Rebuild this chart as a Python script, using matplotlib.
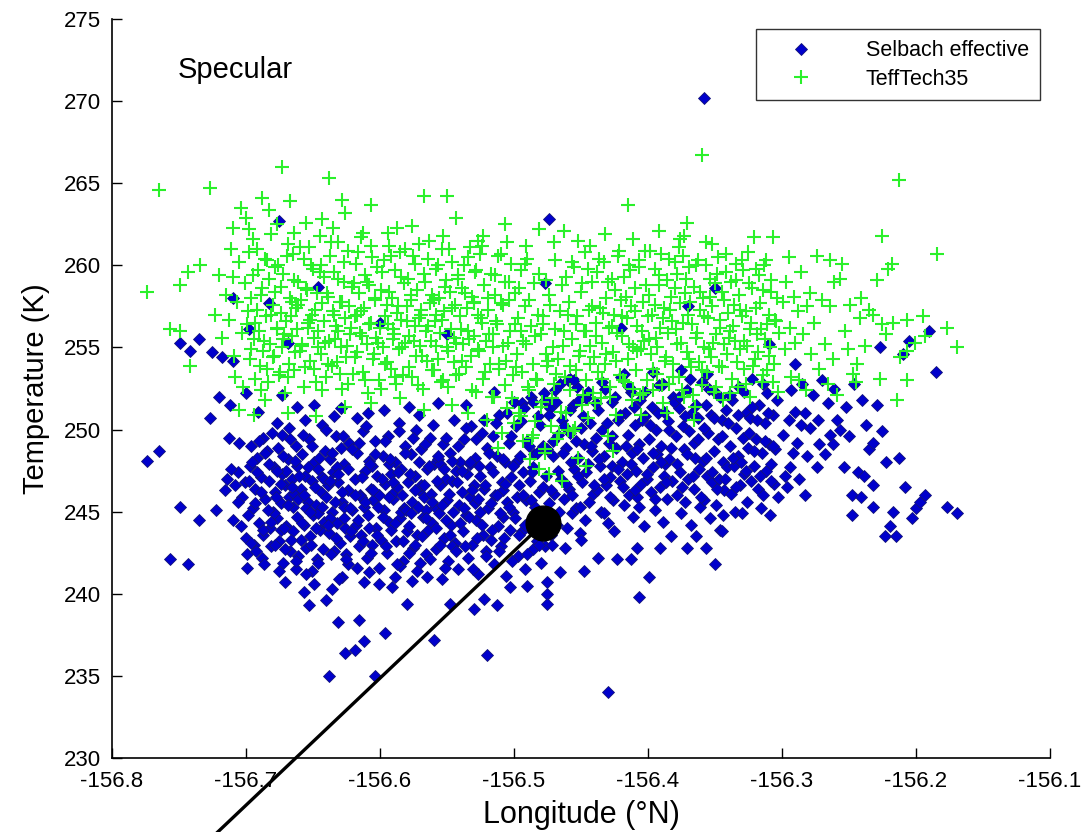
import matplotlib
matplotlib.use("Agg")
import matplotlib.pyplot as plt
import numpy as np

plt.rcParams['font.family'] = ['Liberation Sans', 'DejaVu Sans']

# Selbach effective temperature (lon, K)
selbach_pts = [
    (-156.774,248.1),(-156.765,248.7),(-156.757,242.1),(-156.749,245.3),(-156.743,241.8),(-156.735,244.5),
    (-156.749,255.3),(-156.735,255.5),(-156.742,254.8),(-156.725,254.7),(-156.718,254.4),(-156.710,254.2),
    (-156.727,250.7),(-156.722,245.1),(-156.710,244.5),(-156.704,244.1),(-156.699,242.4),(-156.699,241.6),
    (-156.720,252.0),(-156.700,252.2),(-156.712,251.5),(-156.691,251.1),(-156.713,249.5),(-156.705,249.2),
    (-156.687,249.5),(-156.673,249.7),(-156.710,258.0),(-156.675,262.7),(-156.683,257.7),(-156.698,256.1),
    (-156.669,255.3),(-156.646,258.7),(-156.673,252.1),(-156.662,251.4),(-156.649,251.5),
    (-156.716,246.3),(-156.714,247.0),(-156.708,246.6),(-156.706,247.4),(-156.703,245.9),(-156.701,246.8),
    (-156.697,247.8),(-156.695,245.2),(-156.693,246.4),(-156.692,248.3),(-156.690,244.3),(-156.689,247.1),
    (-156.687,243.6),(-156.686,245.8),(-156.684,248.7),(-156.683,246.9),(-156.681,242.9),(-156.680,245.0),
    (-156.700,243.4),(-156.694,243.0),(-156.688,242.2),(-156.706,245.6),(-156.711,247.6),(-156.682,244.0),
    (-156.696,249.0),
    (-156.679,247.7),(-156.678,246.2),(-156.677,244.6),(-156.676,248.9),(-156.675,243.2),(-156.674,245.5),
    (-156.673,247.3),(-156.672,241.9),(-156.671,246.6),(-156.671,240.7),(-156.670,244.1),(-156.669,248.2),
    (-156.668,245.9),(-156.667,242.6),(-156.666,247.0),(-156.665,243.8),(-156.664,246.1),(-156.663,249.0),
    (-156.662,244.7),(-156.661,242.3),(-156.677,250.4),(-156.668,250.1),(-156.674,243.9),(-156.665,245.3),
    (-156.662,247.8),(-156.679,244.9),(-156.670,247.5),(-156.663,241.5),
    (-156.659,246.4),(-156.658,248.5),(-156.657,240.1),(-156.657,244.2),(-156.656,247.2),(-156.655,242.8),
    (-156.654,245.6),(-156.653,239.3),(-156.653,249.4),(-156.652,243.5),(-156.651,246.9),(-156.650,244.8),
    (-156.649,240.6),(-156.649,248.0),(-156.648,245.4),(-156.647,242.1),(-156.646,247.6),(-156.645,243.9),
    (-156.644,246.2),(-156.643,250.3),(-156.642,244.4),(-156.641,248.7),(-156.640,239.6),(-156.640,245.9),
    (-156.656,250.6),(-156.651,241.4),(-156.646,244.9),(-156.659,243.3),(-156.643,247.1),(-156.655,245.2),
    (-156.639,246.6),(-156.638,235.0),(-156.638,243.7),(-156.637,248.2),(-156.636,240.3),(-156.636,245.0),
    (-156.635,247.4),(-156.634,242.6),(-156.633,249.6),(-156.632,244.3),(-156.631,238.3),(-156.631,246.8),
    (-156.630,243.1),(-156.629,248.9),(-156.628,241.0),(-156.628,245.6),(-156.627,247.9),(-156.626,236.4),
    (-156.626,244.0),(-156.625,242.4),(-156.624,246.3),(-156.623,249.2),(-156.622,243.5),(-156.621,245.1),
    (-156.634,250.8),(-156.629,251.3),(-156.637,244.6),(-156.624,241.8),(-156.632,247.7),(-156.627,245.3),
    (-156.619,236.6),(-156.619,247.0),(-156.618,244.2),(-156.617,248.6),(-156.616,238.4),(-156.616,242.9),
    (-156.615,246.0),(-156.614,243.6),(-156.613,249.9),(-156.612,237.1),(-156.612,240.7),(-156.612,245.3),
    (-156.611,247.5),(-156.610,242.2),(-156.609,244.8),(-156.608,241.3),(-156.608,248.1),(-156.607,246.4),
    (-156.606,243.0),(-156.605,245.7),(-156.604,235.0),(-156.604,249.3),(-156.603,244.0),(-156.602,247.2),
    (-156.601,241.6),(-156.601,246.0),(-156.617,250.7),(-156.609,251.0),(-156.614,245.9),(-156.606,247.8),
    (-156.599,243.3),(-156.598,248.4),(-156.597,245.1),(-156.596,237.6),(-156.596,246.7),(-156.595,242.5),
    (-156.594,249.6),(-156.593,244.4),(-156.592,247.3),(-156.591,240.4),(-156.590,245.8),(-156.589,241.0),
    (-156.589,248.0),(-156.588,243.2),(-156.587,246.5),(-156.586,250.4),(-156.585,244.6),(-156.584,247.6),
    (-156.583,242.0),(-156.582,245.2),(-156.581,249.0),(-156.580,239.4),(-156.580,243.8),(-156.597,251.2),
    (-156.591,246.1),(-156.585,241.7),(-156.593,247.9),(-156.584,245.0),
    (-156.579,246.8),(-156.578,244.1),(-156.577,248.5),(-156.576,240.8),(-156.576,245.6),(-156.575,242.8),
    (-156.574,247.2),(-156.573,250.0),(-156.572,243.6),(-156.571,246.3),(-156.570,241.9),(-156.569,248.8),
    (-156.568,244.7),(-156.567,245.9),(-156.566,242.4),(-156.565,241.0),(-156.565,247.6),(-156.564,243.9),
    (-156.563,249.5),(-156.562,246.1),(-156.561,244.3),(-156.560,237.2),(-156.560,247.9),(-156.578,251.4),
    (-156.571,250.9),(-156.566,245.1),(-156.574,243.0),(-156.569,246.6),
    (-156.559,245.3),(-156.558,242.7),(-156.557,248.2),(-156.556,244.9),(-156.555,246.6),(-156.554,240.9),
    (-156.553,249.1),(-156.552,243.4),(-156.551,247.0),(-156.550,245.7),(-156.549,242.0),(-156.548,239.4),
    (-156.548,248.6),(-156.547,244.2),(-156.546,246.9),(-156.545,250.6),(-156.544,243.1),(-156.543,247.5),
    (-156.542,241.5),(-156.541,245.4),(-156.540,248.0),(-156.557,251.6),(-156.551,244.5),(-156.546,242.9),
    (-156.555,247.9),
    (-156.539,246.2),(-156.538,243.8),(-156.537,249.4),(-156.536,244.8),(-156.535,247.3),(-156.534,242.2),
    (-156.533,245.9),(-156.532,250.2),(-156.531,243.0),(-156.530,239.1),(-156.530,246.6),(-156.529,248.3),
    (-156.528,244.5),(-156.527,241.2),(-156.526,247.8),(-156.525,245.0),(-156.524,249.8),(-156.523,243.6),
    (-156.522,239.7),(-156.522,246.4),(-156.521,242.6),(-156.520,236.3),(-156.520,248.9),(-156.536,251.5),
    (-156.529,245.5),(-156.533,247.9),
    (-156.519,245.2),(-156.518,247.7),(-156.517,243.3),(-156.516,249.6),(-156.515,241.8),(-156.514,246.0),
    (-156.513,239.3),(-156.513,248.4),(-156.512,244.1),(-156.511,250.9),(-156.510,242.9),(-156.509,246.8),
    (-156.508,244.7),(-156.507,248.0),(-156.506,241.1),(-156.505,245.6),(-156.504,249.2),(-156.503,240.4),
    (-156.503,243.9),(-156.502,247.1),(-156.501,245.0),(-156.500,251.7),(-156.515,252.3),(-156.508,246.3),
    (-156.499,244.6),(-156.498,248.1),(-156.497,242.3),(-156.496,246.6),(-156.495,250.5),(-156.494,243.8),
    (-156.493,247.4),(-156.492,241.5),(-156.491,245.7),(-156.490,240.5),(-156.490,249.3),(-156.489,244.0),
    (-156.488,246.9),(-156.487,252.0),(-156.486,242.7),(-156.485,248.5),(-156.484,245.3),(-156.483,243.2),
    (-156.482,250.8),(-156.481,246.2),(-156.480,241.9),(-156.494,251.6),(-156.486,247.7),
    (-156.479,244.8),(-156.478,249.0),(-156.477,242.9),(-156.476,247.2),(-156.475,240.7),(-156.475,240.0),
    (-156.475,239.4),(-156.474,262.8),(-156.474,245.5),(-156.473,251.3),(-156.472,243.6),(-156.471,248.4),
    (-156.470,246.1),(-156.469,252.4),(-156.468,244.2),(-156.467,249.7),(-156.466,241.3),(-156.465,247.0),
    (-156.464,250.6),(-156.463,245.8),(-156.462,242.8),(-156.461,248.9),(-156.460,253.0),(-156.477,251.8),
    (-156.459,246.4),(-156.458,249.8),(-156.457,244.9),(-156.456,251.5),(-156.455,247.6),(-156.454,245.2),
    (-156.453,252.6),(-156.452,248.3),(-156.451,243.7),(-156.450,250.1),(-156.449,246.8),(-156.448,241.4),
    (-156.448,249.1),(-156.447,244.5),(-156.446,251.9),(-156.445,247.9),(-156.444,245.6),(-156.443,250.4),
    (-156.442,248.7),(-156.441,246.1),(-156.458,253.1),(-156.450,243.3),
    (-156.439,249.5),(-156.438,246.3),(-156.437,242.2),(-156.437,251.2),(-156.436,247.8),(-156.435,245.0),
    (-156.434,250.0),(-156.433,248.4),(-156.432,252.5),(-156.431,246.6),(-156.430,244.3),(-156.430,234.0),
    (-156.429,249.2),(-156.428,247.1),(-156.427,251.7),(-156.426,245.7),(-156.425,243.8),(-156.424,248.9),
    (-156.423,242.1),(-156.422,250.6),(-156.421,246.9),(-156.420,253.2),(-156.433,244.9),(-156.427,247.8),
    (-156.419,248.0),(-156.418,245.4),(-156.417,251.0),(-156.416,247.3),(-156.415,249.7),(-156.414,246.0),
    (-156.413,242.1),(-156.413,252.3),(-156.412,248.6),(-156.411,244.7),(-156.410,250.3),(-156.409,247.5),
    (-156.408,242.8),(-156.408,245.9),(-156.407,239.8),(-156.407,249.1),(-156.406,251.8),(-156.405,246.7),
    (-156.404,248.3),(-156.403,244.1),(-156.402,250.8),(-156.401,247.0),(-156.418,253.4),(-156.410,246.3),
    (-156.399,241.0),(-156.399,249.4),(-156.398,246.2),(-156.397,251.4),(-156.396,247.7),(-156.395,245.1),
    (-156.394,250.0),(-156.393,248.5),(-156.392,252.7),(-156.391,242.8),(-156.391,246.5),(-156.390,249.0),
    (-156.389,244.4),(-156.388,251.1),(-156.387,247.9),(-156.386,245.8),(-156.385,250.5),(-156.384,248.2),
    (-156.383,243.5),(-156.382,246.9),(-156.381,252.0),(-156.396,253.5),(-156.388,247.2),
    (-156.379,249.6),(-156.378,246.0),(-156.377,251.3),(-156.376,247.4),(-156.375,244.9),(-156.374,250.2),
    (-156.373,248.8),(-156.372,245.6),(-156.371,242.8),(-156.371,252.4),(-156.370,247.0),(-156.369,249.9),
    (-156.368,244.2),(-156.367,251.0),(-156.366,246.4),(-156.365,248.3),(-156.364,243.5),(-156.363,250.7),
    (-156.362,247.6),(-156.361,245.3),(-156.360,252.9),(-156.358,270.2),(-156.375,253.6),(-156.366,249.2),
    (-156.359,248.1),(-156.358,245.7),(-156.357,242.8),(-156.357,251.5),(-156.356,247.2),(-156.355,249.8),
    (-156.354,244.6),(-156.353,250.9),(-156.352,246.8),(-156.351,248.7),(-156.350,241.8),(-156.350,252.3),
    (-156.349,245.4),(-156.348,249.4),(-156.347,247.0),(-156.346,243.9),(-156.345,243.8),(-156.345,250.6),
    (-156.344,244.8),(-156.344,248.0),(-156.343,246.3),(-156.342,251.2),(-156.341,247.7),(-156.356,253.4),
    (-156.339,249.0),(-156.338,246.1),(-156.337,251.8),(-156.336,247.8),(-156.335,245.0),(-156.334,250.1),
    (-156.333,248.4),(-156.332,252.6),(-156.331,246.6),(-156.330,244.9),(-156.329,249.5),(-156.328,247.3),
    (-156.327,251.0),(-156.326,245.6),(-156.325,248.9),(-156.324,250.7),(-156.323,246.9),(-156.322,253.1),
    (-156.321,247.8),
    (-156.319,249.4),(-156.318,246.4),(-156.317,251.5),(-156.316,245.2),(-156.315,248.6),(-156.314,246.0),
    (-156.313,250.4),(-156.312,247.5),(-156.311,252.2),(-156.310,249.1),(-156.309,244.8),(-156.308,247.9),
    (-156.307,250.9),(-156.306,246.7),(-156.305,248.8),(-156.304,251.8),(-156.303,245.9),
    (-156.299,249.7),(-156.298,247.2),(-156.296,246.5),(-156.295,250.6),(-156.294,247.7),(-156.293,252.4),
    (-156.292,248.6),(-156.290,251.1),(-156.289,249.2),(-156.287,247.0),(-156.286,250.3),(-156.285,252.8),
    (-156.283,246.0),(-156.283,251.0),(-156.281,248.4),
    (-156.279,250.1),(-156.277,252.1),(-156.274,247.7),(-156.273,250.6),(-156.272,249.1),(-156.270,253.0),
    (-156.268,248.5),(-156.266,251.6),(-156.264,249.7),(-156.262,249.1),(-156.261,252.5),
    (-156.259,250.6),(-156.257,250.0),(-156.254,247.7),(-156.252,251.4),(-156.250,249.6),(-156.248,246.0),
    (-156.248,244.8),(-156.246,252.8),(-156.243,247.4),(-156.241,245.9),(-156.240,251.8),
    (-156.239,247.2),(-156.237,250.3),(-156.235,248.8),(-156.232,249.2),(-156.232,246.6),(-156.232,245.3),
    (-156.229,251.5),(-156.227,255.0),(-156.225,249.9),(-156.223,243.5),(-156.222,248.0),
    (-156.219,244.1),(-156.217,245.0),(-156.215,243.5),(-156.213,248.3),(-156.210,254.6),(-156.208,246.5),
    (-156.205,255.4),(-156.203,244.6),(-156.200,245.2),
    (-156.197,245.6),(-156.193,246.0),(-156.190,256.0),(-156.185,253.5),(-156.177,245.3),(-156.169,244.9),
    (-156.477,258.9),(-156.600,256.5),(-156.550,255.8),(-156.420,256.2),(-156.370,257.5),(-156.310,255.2),
    (-156.290,254.0),(-156.350,258.6),
]

# denser core of the Selbach cloud
selbach_core_pts = [
    (-156.6985,244.8),(-156.6975,246.9),(-156.6965,243.1),(-156.6955,248.0),(-156.6935,245.5),(-156.6925,242.6),
    (-156.6915,247.4),(-156.6905,249.3),(-156.6885,246.2),(-156.6875,243.9),(-156.6865,241.8),(-156.6855,248.6),
    (-156.6835,245.1),(-156.6825,247.9),(-156.6815,244.4),(-156.6805,249.8),(-156.6785,243.0),(-156.6775,245.9),
    (-156.6765,247.5),(-156.6755,241.4),(-156.6735,246.7),(-156.6725,248.4),(-156.6715,244.0),(-156.6705,242.7),
    (-156.6685,245.4),(-156.6675,249.4),(-156.6665,243.3),(-156.6655,246.5),(-156.6635,248.1),(-156.6625,242.0),
    (-156.6615,245.8),(-156.6605,247.2),(-156.6585,244.3),(-156.6575,249.7),(-156.6565,246.0),(-156.6555,241.2),
    (-156.6535,247.7),(-156.6525,245.0),(-156.6515,243.0),(-156.6505,249.0),(-156.6485,246.5),(-156.6475,244.0),
    (-156.6465,241.9),(-156.6455,248.3),(-156.6435,245.3),(-156.6425,242.7),(-156.6415,247.0),(-156.6405,250.0),
    (-156.6385,244.2),(-156.6375,246.9),(-156.6365,242.4),(-156.6355,248.6),(-156.6335,245.6),(-156.6325,243.4),
    (-156.6315,247.3),(-156.6305,240.9),(-156.6285,246.2),(-156.6275,249.6),(-156.6265,244.6),(-156.6255,242.1),
    (-156.6235,247.6),(-156.6225,245.2),(-156.6215,243.8),(-156.6205,248.8),(-156.6185,246.0),(-156.6175,241.6),
    (-156.6165,244.5),(-156.6155,249.2),(-156.6135,247.1),(-156.6125,243.2),(-156.6115,245.6),(-156.6105,250.2),
    (-156.6085,244.0),(-156.6075,247.9),(-156.6065,242.5),(-156.6055,246.3),(-156.6035,248.5),(-156.6025,243.6),
    (-156.6015,245.3),(-156.6005,240.6),(-156.5985,247.0),(-156.5975,244.7),(-156.5965,249.3),(-156.5955,242.9),
    (-156.5935,245.9),(-156.5925,248.2),(-156.5915,243.9),(-156.5905,246.8),(-156.5885,244.3),(-156.5875,241.8),
    (-156.5865,247.4),(-156.5855,249.9),(-156.5835,246.0),(-156.5825,243.2),(-156.5815,248.6),(-156.5805,245.1),
    (-156.5785,242.5),(-156.5775,247.3),(-156.5765,244.9),(-156.5755,249.5),(-156.5735,246.3),(-156.5725,241.4),
    (-156.5715,245.3),(-156.5705,248.0),(-156.5685,243.5),(-156.5675,246.6),(-156.5665,249.1),(-156.5655,244.6),
    (-156.5635,247.8),(-156.5625,242.1),(-156.5615,245.6),(-156.5605,250.3),(-156.5585,244.0),(-156.5575,246.9),
    (-156.5565,248.4),(-156.5555,243.0),(-156.5535,245.4),(-156.5525,247.6),(-156.5515,241.6),(-156.5505,249.5),
    (-156.5485,246.1),(-156.5475,243.6),(-156.5465,248.1),(-156.5455,245.0),(-156.5435,242.6),(-156.5425,246.8),
    (-156.5415,249.0),(-156.5405,244.3),(-156.5385,247.5),(-156.5375,245.2),(-156.5365,242.9),(-156.5355,250.1),
    (-156.5335,244.7),(-156.5325,248.0),(-156.5315,246.3),(-156.5305,241.5),(-156.5285,249.4),(-156.5275,243.4),
    (-156.5265,245.8),(-156.5255,247.2),(-156.5235,244.2),(-156.5225,250.6),(-156.5215,246.6),(-156.5205,242.3),
    (-156.5185,248.6),(-156.5175,245.5),(-156.5165,243.9),(-156.5155,247.4),(-156.5135,250.4),(-156.5125,246.0),
    (-156.5115,242.6),(-156.5105,244.9),(-156.5085,248.2),(-156.5075,243.4),(-156.5065,246.7),(-156.5055,251.0),
    (-156.5035,245.3),(-156.5025,249.6),(-156.5015,242.0),(-156.5005,247.8),(-156.4985,250.2),(-156.4975,245.9),
    (-156.4965,243.6),(-156.4955,248.4),(-156.4935,246.0),(-156.4925,251.3),(-156.4915,244.2),(-156.4905,242.4),
    (-156.4885,249.0),(-156.4875,245.7),(-156.4865,247.4),(-156.4855,251.7),(-156.4835,244.8),(-156.4825,248.6),
    (-156.4815,243.0),(-156.4805,250.3),(-156.4785,246.5),(-156.4775,252.2),(-156.4765,244.1),(-156.4755,248.8),
    (-156.4735,250.9),(-156.4725,246.3),(-156.4715,243.0),(-156.4705,249.3),(-156.4685,251.7),(-156.4675,247.5),
    (-156.4665,245.0),(-156.4655,252.8),(-156.4635,248.6),(-156.4625,250.2),(-156.4615,246.7),(-156.4605,244.0),
    (-156.4585,251.2),(-156.4575,248.0),(-156.4565,246.0),(-156.4555,253.0),(-156.4535,249.3),(-156.4525,247.2),
    (-156.4515,251.8),(-156.4505,245.3),
    (-156.4485,250.8),(-156.4465,247.4),(-156.4445,252.3),(-156.4425,249.0),(-156.4405,246.6),(-156.4385,251.6),
    (-156.4365,248.2),(-156.4345,252.9),(-156.4325,247.0),(-156.4305,250.4),(-156.4285,245.9),(-156.4265,249.6),
    (-156.4245,252.0),(-156.4225,247.6),(-156.4205,250.9),(-156.4185,246.5),(-156.4165,249.0),(-156.4145,252.6),
    (-156.4125,247.9),(-156.4105,251.4),(-156.4085,248.8),(-156.4065,245.3),(-156.4045,250.6),(-156.4025,252.3),
    (-156.4005,247.3),(-156.3985,250.3),(-156.3965,248.6),(-156.3945,245.8),(-156.3925,251.0),(-156.3905,248.0),
    (-156.3885,252.8),(-156.3865,246.8),(-156.3845,250.0),(-156.3825,248.9),(-156.3805,251.7),(-156.3785,247.9),
    (-156.3765,252.0),(-156.3745,246.5),(-156.3725,250.8),(-156.3705,248.5),(-156.3685,253.1),(-156.3665,247.2),
    (-156.3645,251.5),(-156.3625,249.4),(-156.3605,245.9),(-156.3585,250.1),(-156.3565,248.3),(-156.3545,252.5),
    (-156.3525,247.4),(-156.3505,250.7),(-156.3485,246.4),(-156.3465,252.0),(-156.3445,249.6),(-156.3425,247.0),
    (-156.3405,250.4),(-156.3385,252.1),(-156.3365,248.3),(-156.3345,246.5),(-156.3325,250.9),(-156.3305,248.0),
    (-156.3285,252.3),(-156.3265,247.5),(-156.3245,249.8),(-156.3225,251.4),(-156.3205,248.7),(-156.3185,250.6),
    (-156.3165,247.2),(-156.3145,252.8),(-156.3125,249.3),(-156.3105,251.0),(-156.3085,246.9),(-156.3065,249.0),
]

# TeffTech35 temperature (lon, K)
tefftech_pts = [
    (-156.774,258.4),(-156.765,264.6),(-156.749,258.8),(-156.743,259.6),(-156.734,260.0),(-156.757,256.1),
    (-156.749,256.0),(-156.742,253.9),(-156.708,253.2),(-156.720,259.4),(-156.710,259.3),(-156.723,257.0),
    (-156.705,251.2),(-156.727,264.7),(-156.673,266.0),(-156.638,265.3),(-156.567,264.2),(-156.704,263.5),
    (-156.688,264.1),(-156.667,263.9),(-156.628,264.0),(-156.607,263.7),(-156.700,262.9),(-156.710,262.3),
    (-156.683,263.4),(-156.643,262.8),(-156.587,262.3),(-156.626,263.2),(-156.550,264.2),(-156.543,262.9),
    (-156.360,266.7),(-156.415,263.7),(-156.371,262.6),(-156.376,261.6),(-156.507,262.5),(-156.523,261.8),
    (-156.481,262.2),(-156.463,262.1),(-156.443,261.2),(-156.213,265.2),(-156.225,261.8),(-156.184,260.7),
    (-156.718,255.6),(-156.715,258.2),(-156.713,256.7),(-156.711,261.0),(-156.709,254.5),(-156.707,257.8),
    (-156.705,260.2),(-156.703,255.9),(-156.702,252.6),(-156.701,258.9),
    (-156.699,256.4),(-156.698,260.8),(-156.697,254.3),(-156.696,258.0),(-156.695,261.6),(-156.694,255.5),
    (-156.693,253.1),(-156.692,257.3),(-156.691,259.7),(-156.690,256.0),(-156.689,252.4),(-156.688,258.6),
    (-156.687,254.8),(-156.686,260.4),(-156.685,256.9),(-156.684,253.7),(-156.683,259.2),(-156.682,255.2),
    (-156.681,261.9),(-156.680,257.6),(-156.694,250.9),(-156.686,251.8),(-156.698,262.2),
    (-156.679,254.5),(-156.678,258.4),(-156.677,256.2),(-156.676,260.0),(-156.675,253.3),(-156.674,257.1),
    (-156.673,255.0),(-156.672,259.5),(-156.671,252.2),(-156.670,256.6),(-156.669,261.3),(-156.668,254.0),
    (-156.667,258.0),(-156.666,255.7),(-156.665,260.7),(-156.664,253.6),(-156.663,257.4),(-156.662,256.1),
    (-156.661,259.0),(-156.660,254.8),(-156.677,262.5),(-156.669,251.0),(-156.664,262.0),(-156.672,255.5),
    (-156.666,257.8),
    (-156.659,257.9),(-156.658,255.1),(-156.657,260.4),(-156.656,253.8),(-156.655,258.6),(-156.654,256.5),
    (-156.653,261.1),(-156.652,254.2),(-156.651,257.0),(-156.650,259.8),(-156.649,255.6),(-156.648,252.9),
    (-156.647,258.3),(-156.646,256.0),(-156.645,261.8),(-156.644,254.6),(-156.643,257.7),(-156.642,259.3),
    (-156.641,255.3),(-156.640,253.2),(-156.655,262.6),(-156.648,250.8),(-156.644,260.0),(-156.652,256.7),
    (-156.639,258.1),(-156.638,255.4),(-156.637,260.6),(-156.636,253.9),(-156.635,257.2),(-156.634,259.6),
    (-156.633,256.3),(-156.632,254.1),(-156.631,261.4),(-156.630,257.8),(-156.629,255.0),(-156.628,252.5),
    (-156.627,259.0),(-156.626,256.8),(-156.625,254.4),(-156.624,260.9),(-156.623,257.5),(-156.622,255.8),
    (-156.621,258.7),(-156.620,253.4),(-156.635,262.3),(-156.626,251.4),(-156.631,256.0),
    (-156.619,256.9),(-156.618,260.1),(-156.617,254.7),(-156.616,258.3),(-156.615,255.9),(-156.614,261.7),
    (-156.613,253.5),(-156.612,257.4),(-156.611,259.4),(-156.610,255.2),(-156.609,252.2),(-156.608,258.8),
    (-156.607,256.5),(-156.606,260.5),(-156.605,254.3),(-156.604,257.9),(-156.603,255.6),(-156.602,259.9),
    (-156.601,253.0),(-156.600,256.2),(-156.613,262.0),(-156.607,251.6),(-156.617,257.0),
    (-156.599,258.5),(-156.598,255.0),(-156.597,260.3),(-156.596,254.0),(-156.595,257.6),(-156.594,256.4),
    (-156.593,261.2),(-156.592,253.7),(-156.591,258.0),(-156.590,255.5),(-156.589,259.7),(-156.588,252.8),
    (-156.587,257.1),(-156.586,254.9),(-156.585,260.8),(-156.584,256.7),(-156.583,253.3),(-156.582,258.9),
    (-156.581,255.3),(-156.580,257.5),(-156.594,262.0),(-156.585,251.9),(-156.590,256.1),
    (-156.579,259.2),(-156.578,255.7),(-156.577,257.9),(-156.576,253.2),(-156.575,260.6),(-156.574,256.3),
    (-156.573,254.5),(-156.572,258.5),(-156.571,261.3),(-156.570,255.1),(-156.569,257.3),(-156.568,252.5),
    (-156.567,259.5),(-156.566,256.0),(-156.565,254.2),(-156.564,260.4),(-156.563,257.7),(-156.562,255.4),
    (-156.561,258.2),(-156.560,253.6),(-156.576,262.4),(-156.567,251.2),(-156.571,256.8),
    (-156.559,256.6),(-156.558,259.8),(-156.557,254.3),(-156.556,258.0),(-156.555,255.9),(-156.554,261.0),
    (-156.553,253.0),(-156.552,257.2),(-156.551,259.1),(-156.550,255.0),(-156.549,252.6),(-156.548,258.4),
    (-156.547,256.1),(-156.546,260.2),(-156.545,254.1),(-156.544,257.6),(-156.543,255.3),(-156.542,259.4),
    (-156.541,253.4),(-156.540,256.9),(-156.553,261.8),(-156.546,251.5),(-156.558,257.0),
    (-156.539,258.6),(-156.538,255.2),(-156.537,260.0),(-156.536,253.8),(-156.535,257.4),(-156.534,256.0),
    (-156.533,261.1),(-156.532,254.5),(-156.531,258.1),(-156.530,255.7),(-156.529,259.6),(-156.528,252.3),
    (-156.527,257.0),(-156.526,254.8),(-156.525,260.7),(-156.524,256.5),(-156.523,253.1),(-156.522,258.8),
    (-156.521,255.4),(-156.520,250.6),(-156.534,251.0),(-156.527,261.5),(-156.530,257.8),
    (-156.519,257.3),(-156.518,254.0),(-156.517,259.5),(-156.516,255.8),(-156.515,252.0),(-156.514,258.2),
    (-156.513,256.4),(-156.512,260.6),(-156.511,253.7),(-156.510,257.7),(-156.509,249.8),(-156.508,255.1),
    (-156.507,259.0),(-156.506,254.2),(-156.505,251.3),(-156.504,257.9),(-156.503,256.0),(-156.502,260.1),
    (-156.501,253.3),(-156.500,250.4),(-156.512,248.9),(-156.505,261.4),(-156.516,255.0),
    (-156.499,258.3),(-156.498,254.6),(-156.497,256.8),(-156.496,251.0),(-156.495,259.7),(-156.494,253.5),
    (-156.493,249.3),(-156.492,257.5),(-156.491,255.2),(-156.490,260.4),(-156.489,252.4),(-156.488,248.2),
    (-156.487,256.3),(-156.486,254.0),(-156.485,258.9),(-156.484,250.5),(-156.483,253.0),(-156.482,257.0),
    (-156.481,247.6),(-156.480,255.8),(-156.491,261.2),(-156.486,249.7),(-156.495,256.0),
    (-156.479,251.7),(-156.478,256.4),(-156.477,248.8),(-156.476,259.1),(-156.475,253.9),(-156.474,247.3),
    (-156.473,257.6),(-156.472,250.2),(-156.471,255.0),(-156.470,252.8),(-156.469,260.3),(-156.468,249.4),
    (-156.467,254.3),(-156.466,257.2),(-156.465,251.1),(-156.464,246.9),(-156.463,256.0),(-156.462,253.2),
    (-156.461,259.3),(-156.460,250.0),(-156.470,261.4),(-156.476,254.6),
    (-156.459,257.8),(-156.458,252.4),(-156.457,255.5),(-156.456,249.9),(-156.455,259.9),(-156.454,253.6),
    (-156.453,256.9),(-156.452,248.3),(-156.451,254.8),(-156.450,258.4),(-156.449,251.5),(-156.448,256.0),
    (-156.447,260.8),(-156.446,253.0),(-156.445,250.7),(-156.444,257.3),(-156.443,255.1),(-156.442,259.0),
    (-156.441,252.2),(-156.440,254.4),(-156.452,261.5),(-156.446,247.8),
    (-156.439,256.5),(-156.438,259.6),(-156.437,253.5),(-156.436,257.4),(-156.435,251.9),(-156.434,255.3),
    (-156.433,260.2),(-156.432,254.0),(-156.431,258.0),(-156.430,249.6),(-156.429,256.2),(-156.428,252.6),
    (-156.427,259.2),(-156.426,254.7),(-156.425,257.0),(-156.424,250.9),(-156.423,255.9),(-156.422,260.6),
    (-156.421,253.3),(-156.420,257.9),(-156.432,261.9),(-156.426,248.7),
    (-156.419,255.7),(-156.418,259.3),(-156.417,252.9),(-156.416,256.8),(-156.415,254.3),(-156.414,260.0),
    (-156.413,257.5),(-156.412,251.8),(-156.411,255.0),(-156.410,258.6),(-156.409,253.6),(-156.408,256.3),
    (-156.407,259.9),(-156.406,252.1),(-156.405,254.9),(-156.404,257.8),(-156.403,255.4),(-156.402,260.9),
    (-156.401,253.0),(-156.400,256.9),(-156.411,261.6),(-156.405,250.9),
    (-156.399,258.2),(-156.398,254.6),(-156.397,257.0),(-156.396,252.4),(-156.395,259.8),(-156.394,255.6),
    (-156.393,253.4),(-156.392,258.8),(-156.391,256.2),(-156.390,260.7),(-156.389,251.6),(-156.388,257.4),
    (-156.387,254.2),(-156.386,259.1),(-156.385,255.9),(-156.384,252.8),(-156.383,258.1),(-156.382,256.6),
    (-156.381,254.0),(-156.380,260.2),(-156.392,262.1),(-156.386,251.0),
    (-156.379,256.1),(-156.378,259.5),(-156.377,253.2),(-156.376,257.7),(-156.375,255.3),(-156.374,260.6),
    (-156.373,252.0),(-156.372,258.3),(-156.371,254.7),(-156.370,257.0),(-156.369,259.9),(-156.368,253.8),
    (-156.367,256.4),(-156.366,258.7),(-156.365,251.4),(-156.364,255.6),(-156.363,260.3),(-156.362,254.1),
    (-156.361,257.3),(-156.360,252.7),(-156.373,261.8),(-156.366,250.6),
    (-156.359,258.0),(-156.358,255.0),(-156.357,260.0),(-156.356,253.5),(-156.355,256.8),(-156.354,259.2),
    (-156.353,254.4),(-156.352,257.5),(-156.351,252.3),(-156.350,258.9),(-156.349,255.8),(-156.348,260.5),
    (-156.347,253.9),(-156.346,256.2),(-156.345,258.4),(-156.344,251.8),(-156.343,255.2),(-156.342,259.6),
    (-156.341,254.6),(-156.340,257.1),(-156.352,261.3),
    (-156.339,256.0),(-156.338,259.0),(-156.337,253.1),(-156.336,257.6),(-156.335,255.4),(-156.334,260.1),
    (-156.333,252.6),(-156.332,258.2),(-156.331,254.9),(-156.330,256.9),(-156.329,259.7),(-156.328,253.7),
    (-156.327,257.2),(-156.326,255.1),(-156.325,260.8),(-156.324,252.0),(-156.323,256.5),(-156.322,258.6),
    (-156.321,261.7),(-156.320,254.3),
    (-156.319,257.4),(-156.318,254.7),(-156.317,259.4),(-156.316,256.1),(-156.315,252.9),(-156.314,258.5),
    (-156.313,255.5),(-156.312,260.3),(-156.311,253.6),(-156.310,257.0),(-156.309,255.0),(-156.308,259.1),
    (-156.307,261.7),(-156.306,254.0),(-156.305,256.7),(-156.304,258.0),(-156.303,252.3),(-156.302,255.9),
    (-156.299,257.8),(-156.298,254.9),(-156.297,259.0),(-156.295,260.5),(-156.294,256.2),(-156.293,253.2),
    (-156.291,258.1),(-156.290,255.3),(-156.288,257.2),(-156.287,253.0),(-156.286,259.6),(-156.284,255.8),
    (-156.282,252.4),(-156.281,257.5),(-156.279,258.3),
    (-156.278,254.6),(-156.276,256.5),(-156.274,260.6),(-156.272,253.7),(-156.270,257.9),(-156.268,255.2),
    (-156.266,252.8),(-156.264,260.3),(-156.264,257.5),(-156.262,254.3),(-156.261,259.0),
    (-156.259,252.1),(-156.257,259.2),(-156.255,260.1),(-156.253,256.0),(-156.251,254.9),(-156.249,257.6),
    (-156.247,253.4),(-156.245,252.9),(-156.244,254.0),(-156.242,256.8),(-156.241,258.0),
    (-156.238,255.1),(-156.235,257.3),(-156.232,257.0),(-156.229,259.1),(-156.227,253.1),(-156.225,256.4),
    (-156.222,255.8),(-156.221,259.8),
    (-156.218,260.1),(-156.217,256.5),(-156.214,251.8),(-156.212,254.4),(-156.207,256.7),(-156.207,253.0),
    (-156.207,254.8),(-156.201,255.3),(-156.195,256.9),(-156.193,255.7),(-156.177,256.2),(-156.169,255.0),
]

# denser core of the TeffTech35 cloud
tefftech_core_pts = [
    (-156.6985,257.2),(-156.6965,254.9),(-156.6945,259.4),(-156.6935,256.5),(-156.6915,261.0),(-156.6895,253.9),
    (-156.6885,258.2),(-156.6865,255.4),(-156.6845,260.3),(-156.6835,252.9),(-156.6815,257.0),(-156.6795,254.4),
    (-156.6785,259.9),(-156.6765,256.1),(-156.6745,253.5),(-156.6735,258.7),(-156.6715,255.8),(-156.6695,260.6),
    (-156.6685,253.2),(-156.6665,256.9),(-156.6645,259.1),(-156.6635,254.7),(-156.6615,257.6),(-156.6595,261.1),
    (-156.6585,255.2),(-156.6565,252.6),(-156.6545,258.5),(-156.6535,256.2),(-156.6515,260.0),(-156.6495,253.7),
    (-156.6485,257.3),(-156.6465,255.0),(-156.6445,259.6),(-156.6435,252.4),(-156.6415,256.6),(-156.6395,258.3),
    (-156.6385,254.0),(-156.6365,261.4),(-156.6345,257.0),(-156.6335,255.5),(-156.6315,259.2),(-156.6295,253.4),
    (-156.6285,257.8),(-156.6265,260.2),(-156.6245,255.1),(-156.6235,252.8),(-156.6215,256.2),(-156.6195,258.9),
    (-156.6185,254.4),(-156.6165,260.8),(-156.6145,257.2),(-156.6135,255.7),(-156.6115,253.0),(-156.6095,259.0),
    (-156.6085,256.4),(-156.6065,261.2),(-156.6045,254.6),(-156.6035,258.0),(-156.6015,255.3),(-156.5995,252.5),
    (-156.5985,259.6),(-156.5965,256.9),(-156.5945,254.1),(-156.5935,258.4),(-156.5915,260.6),(-156.5895,255.8),
    (-156.5885,253.2),(-156.5865,257.5),(-156.5845,259.3),(-156.5835,255.0),(-156.5815,261.0),(-156.5795,256.6),
    (-156.5785,253.8),(-156.5765,258.2),(-156.5745,255.4),(-156.5735,260.1),(-156.5715,252.7),(-156.5695,257.0),
    (-156.5685,254.5),(-156.5665,259.0),(-156.5645,256.3),(-156.5635,261.5),(-156.5615,253.6),(-156.5595,257.9),
    (-156.5585,255.1),(-156.5565,260.0),(-156.5545,252.9),(-156.5535,256.7),(-156.5515,258.7),(-156.5495,254.8),
    (-156.5485,261.0),(-156.5465,257.4),(-156.5445,255.6),(-156.5435,253.3),(-156.5415,259.2),(-156.5395,256.1),
    (-156.5385,254.2),(-156.5365,258.3),(-156.5345,260.5),(-156.5335,255.5),(-156.5315,252.4),(-156.5295,257.7),
    (-156.5285,259.7),(-156.5265,254.9),(-156.5245,256.8),(-156.5235,261.2),(-156.5215,253.5),(-156.5195,258.0),
    (-156.5185,255.8),(-156.5165,252.0),(-156.5145,259.4),(-156.5135,256.6),(-156.5115,254.0),(-156.5095,260.7),
    (-156.5085,257.6),(-156.5065,252.7),(-156.5045,255.3),(-156.5035,259.0),(-156.5015,251.9),(-156.4995,256.4),
    (-156.4985,253.8),(-156.4965,258.6),(-156.4945,250.8),(-156.4935,255.4),(-156.4915,260.1),(-156.4895,252.6),
    (-156.4885,257.9),(-156.4865,249.5),(-156.4845,255.7),(-156.4835,253.1),(-156.4815,259.5),(-156.4795,251.4),
    (-156.4785,256.9),(-156.4765,248.6),(-156.4745,254.2),(-156.4735,258.2),(-156.4715,251.9),(-156.4695,256.1),
    (-156.4685,253.4),(-156.4665,249.8),(-156.4645,258.8),(-156.4635,255.1),(-156.4615,251.0),(-156.4595,257.0),
    (-156.4585,253.9),(-156.4565,260.2),(-156.4545,250.1),(-156.4535,256.4),(-156.4515,254.5),(-156.4495,258.9),
    (-156.4485,252.1),(-156.4465,256.0),(-156.4445,259.8),(-156.4435,254.0),(-156.4415,257.5),(-156.4395,251.6),
    (-156.4385,255.7),(-156.4365,260.4),(-156.4345,253.1),(-156.4335,257.1),(-156.4315,254.6),(-156.4295,259.0),
    (-156.4285,252.0),(-156.4265,256.3),(-156.4245,258.5),(-156.4235,254.2),(-156.4215,260.9),(-156.4195,256.9),
    (-156.4185,253.0),(-156.4165,258.1),(-156.4145,255.2),(-156.4135,259.7),(-156.4115,252.5),(-156.4095,257.2),
    (-156.4085,254.8),(-156.4065,260.3),(-156.4045,256.0),(-156.4035,252.2),(-156.4015,258.8),(-156.3995,255.5),
    (-156.3985,260.9),(-156.3965,253.7),(-156.3945,257.6),(-156.3935,255.0),(-156.3915,259.4),(-156.3895,252.7),
    (-156.3885,256.8),(-156.3865,254.4),(-156.3845,260.4),(-156.3835,257.3),(-156.3815,253.2),(-156.3795,258.6),
    (-156.3785,255.2),(-156.3765,261.1),(-156.3745,252.4),(-156.3735,256.5),(-156.3715,259.2),(-156.3695,254.3),
    (-156.3685,257.8),(-156.3665,252.1),(-156.3645,260.0),(-156.3635,255.9),(-156.3615,258.4),(-156.3595,253.6),
    (-156.3585,256.9),(-156.3565,261.4),(-156.3545,254.9),(-156.3535,258.1),(-156.3515,255.3),(-156.3495,252.6),
    (-156.3485,259.5),(-156.3465,256.7),(-156.3445,253.8),(-156.3435,257.9),(-156.3415,260.7),(-156.3395,255.6),
    (-156.3385,252.2),(-156.3365,256.3),(-156.3345,259.1),(-156.3335,254.1),(-156.3315,257.3),(-156.3295,260.3),
    (-156.3285,255.4),(-156.3265,252.8),(-156.3245,258.9),(-156.3235,256.1),(-156.3215,253.9),(-156.3195,259.8),
    (-156.3185,255.8),(-156.3165,257.7),(-156.3145,253.3),(-156.3135,260.0),(-156.3115,256.4),(-156.3095,254.5),
    (-156.3085,258.4),(-156.3065,252.9),(-156.3045,256.6),
]

# annotation: pointer line and dot
pointer_lon = [-156.721, -156.478]
pointer_temp = [225.5, 244.3]

x_ticks = [-156.8, -156.7, -156.6, -156.5, -156.4, -156.3, -156.2, -156.1]
y_ticks = list(range(230, 276, 5))

sel = np.array(selbach_pts + selbach_core_pts)
tef = np.array(tefftech_pts + tefftech_core_pts)

fig = plt.figure(figsize=(10.86, 8.32), dpi=100)
ax = fig.add_axes([0.1031, 0.0889, 0.8637, 0.8882])

ax.plot(sel[:, 0], sel[:, 1], 'D', color='#0000cc', markeredgecolor='#14147a',
        markeredgewidth=0.6, markersize=6.3, linestyle='none', label='Selbach effective')
ax.plot(tef[:, 0], tef[:, 1], '+', color='#2af02a', markeredgewidth=1.5,
        markersize=10, linestyle='none', label='TeffTech35')

ax.plot(pointer_lon, pointer_temp, color='black', linewidth=2.4, clip_on=False, zorder=5)
ax.plot(pointer_lon[1], pointer_temp[1], 'o', color='black', markersize=25, zorder=6)

ax.text(-156.751, 271.9, 'Specular', fontsize=21, va='center', ha='left')

ax.set_xlim(-156.8, -156.1)
ax.set_ylim(230, 275)
ax.set_xticks(x_ticks)
ax.set_xticklabels(['%.1f' % t for t in x_ticks])
ax.set_yticks(y_ticks)
ax.tick_params(direction='in', length=7, width=1, labelsize=16)
ax.tick_params(axis='x', pad=9)
ax.tick_params(axis='y', pad=8)
for s in ['top', 'right']:
    ax.spines[s].set_visible(False)
for s in ['left', 'bottom']:
    ax.spines[s].set_linewidth(1.2)

ax.set_xlabel('Longitude (°N)', fontsize=22, labelpad=6)
ax.set_ylabel('Temperature (K)', fontsize=21, labelpad=10)

leg = ax.legend(loc='upper right', bbox_to_anchor=(0.989, 0.986), borderaxespad=0,
                fontsize=15.5, frameon=True, fancybox=False, edgecolor='black',
                borderpad=0.5, handletextpad=1.4, labelspacing=0.35, handlelength=3.2)
leg.get_frame().set_linewidth(1.0)

fig.savefig('out.png', dpi=100)
